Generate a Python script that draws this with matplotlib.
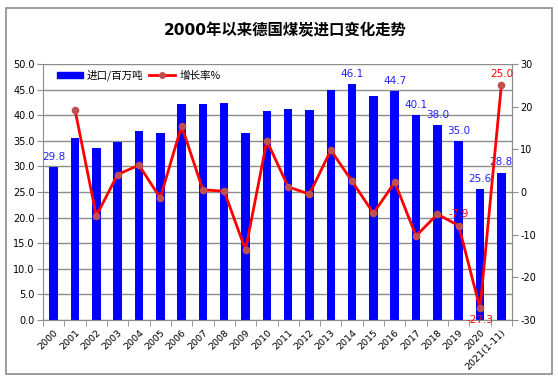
import matplotlib
matplotlib.use('Agg')
import matplotlib.pyplot as plt
from matplotlib.patches import Rectangle
from matplotlib.lines import Line2D
import numpy as np

plt.rcParams['font.family'] = ['DejaVu Sans', 'Noto Sans CJK SC']

# 年份
years = ['2000', '2001', '2002', '2003', '2004', '2005', '2006', '2007',
         '2008', '2009', '2010', '2011', '2012', '2013', '2014', '2015',
         '2016', '2017', '2018', '2019', '2020', '2021(1-11)']
# 进口量 百万吨
imports = [29.8, 35.5, 33.5, 34.8, 37.0, 36.5, 42.2, 42.2, 42.4, 36.5, 40.9,
           41.2, 41.0, 45.0, 46.1, 43.8, 44.7, 40.1, 38.0, 35.0, 25.6, 28.8]
# 增长率 %
growth = [None, 19.3, -5.6, 4.1, 6.3, -1.4, 15.5, 0.5, 0.2, -13.6, 12.0,
          1.2, -0.5, 9.8, 2.5, -5.0, 2.3, -10.3, -5.2, -7.9, -27.3, 25.0]
# 标注的柱子和折线点
bar_labels = [0, 14, 16, 17, 18, 19, 20, 21]
line_labels = [19, 20, 21]

fig = plt.figure(figsize=(5.58, 3.82), dpi=100)
fig.patches.append(Rectangle((6/558, 1 - 374/382), 546/558, 366/382,
                             transform=fig.transFigure, fill=False,
                             edgecolor='#8c8c8c', linewidth=1.2))

ax = fig.add_axes([43/558, 1 - 320/382, 469/558, 256/382])
x = np.arange(len(years))

ax.bar(x, imports, width=0.4, color='#0000ff', zorder=2)
ax.set_xlim(-0.5, len(years) - 0.5)
ax.set_ylim(0, 50)
ax.set_yticks(np.arange(0, 50.1, 5))
ax.set_yticklabels(['%.1f' % v for v in np.arange(0, 50.1, 5)], fontsize=7)
ax.yaxis.grid(True, color='#8c8c8c', linewidth=1)
ax.set_axisbelow(True)

ax.set_xticks(x)
ax.set_xticklabels(years, fontsize=6.8, rotation=45, ha='right',
                   rotation_mode='anchor')
ax.set_xticks(np.arange(-0.5, len(years), 1), minor=True)
ax.tick_params(axis='x', which='major', length=0, pad=6)
ax.tick_params(axis='x', which='minor', length=4, color='#8c8c8c')
ax.tick_params(axis='y', length=4, color='#8c8c8c', pad=2)

ax.spines['top'].set_visible(False)
for s in ['left', 'bottom', 'right']:
    ax.spines[s].set_color('#8c8c8c')

for i in bar_labels:
    ax.text(x[i], imports[i] + 1.0, '%.1f' % imports[i], color='#2222ff',
            fontsize=7.5, ha='center', va='bottom', zorder=5)

ax2 = ax.twinx()
gx = [i for i in x if growth[i] is not None]
gy = [growth[i] for i in gx]
ax2.plot(gx, gy, color='#ff0000', linewidth=2, marker='o', markersize=4.5,
         markerfacecolor='#c0504d', markeredgecolor='#c0504d', zorder=3)
ax2.set_ylim(-30, 30)
ax2.set_yticks(np.arange(-30, 31, 10))
ax2.set_yticklabels([str(v) for v in range(-30, 31, 10)], fontsize=7)
ax2.tick_params(axis='y', length=4, color='#8c8c8c', pad=2)
for s in ['top', 'left', 'bottom']:
    ax2.spines[s].set_visible(False)
ax2.spines['right'].set_color('#8c8c8c')

for i in line_labels:
    if growth[i] < -20:
        ax2.text(x[i], growth[i] - 1.5, '%.1f' % growth[i], color='#ff0000',
                 fontsize=7.5, ha='center', va='top')
    else:
        ax2.text(x[i], growth[i] + 1.5, '%.1f' % growth[i], color='#ff0000',
                 fontsize=7.5, ha='center', va='bottom')

handles = [Rectangle((0, 0), 1, 1, color='#0000ff'),
           Line2D([], [], color='#ff0000', linewidth=2, marker='o',
                  markersize=4, markerfacecolor='#c0504d',
                  markeredgecolor='#c0504d')]
leg = ax2.legend(handles, ['进口/百万吨', '增长率%'], ncol=2, frameon=False,
                 loc='center left', bbox_to_anchor=(57/558, 1 - 75.7/382),
                 bbox_transform=fig.transFigure, borderpad=0, borderaxespad=0,
                 handlelength=2.45, handleheight=0.55,
                 columnspacing=0.5, handletextpad=0.4,
                 prop={'family': ['Noto Sans CJK SC'], 'size': 7.6})

fig.text(284.7/558, 1 - 31/382, '2000年以来德国煤炭进口变化走势', ha='center',
         va='center', fontsize=11.1, fontweight='bold',
         family=['DejaVu Sans', 'Noto Sans CJK SC'])

fig.savefig('out.png', dpi=100)
